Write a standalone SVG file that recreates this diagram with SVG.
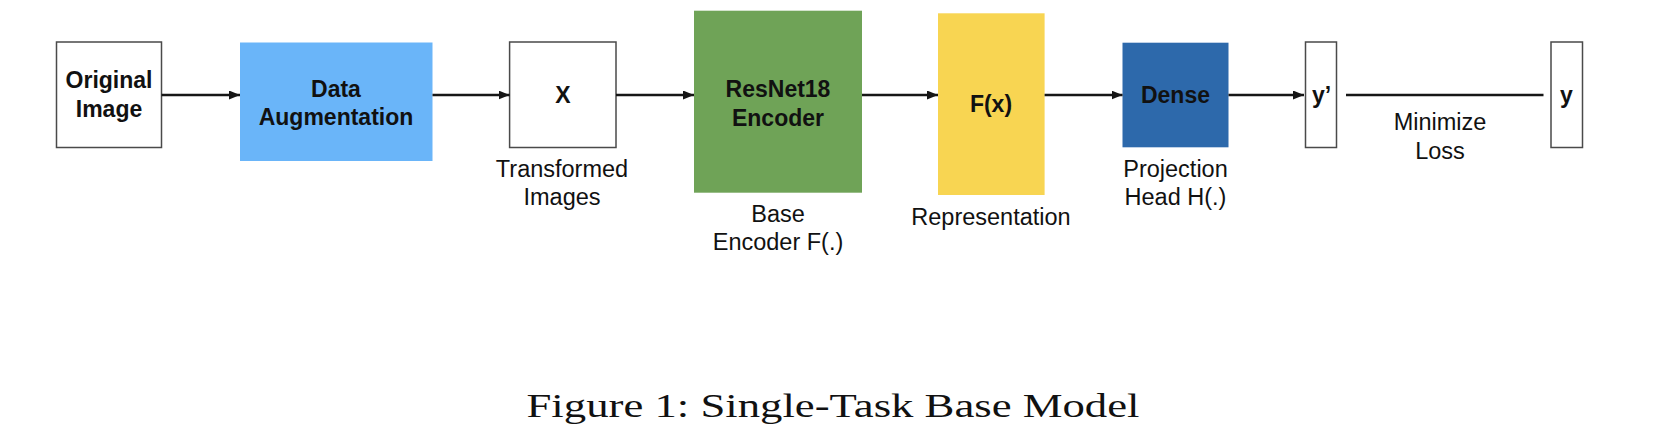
<svg xmlns="http://www.w3.org/2000/svg" width="1670" height="446" viewBox="0 0 1670 446">
<style>
.box{stroke:#4a4a4a;stroke-width:1.5;fill:#fff}
.b{font-family:"Liberation Sans",Arial,sans-serif;font-weight:bold;font-size:23px;fill:#111;text-anchor:middle}
.r{font-family:"Liberation Sans",Arial,sans-serif;font-size:23.5px;fill:#111;text-anchor:middle}
.cap{font-family:"Liberation Serif","Times New Roman",serif;font-size:34px;fill:#111;text-anchor:middle}
.edge{stroke:#161616;stroke-width:2.4;fill:none}
</style>
<defs>
<marker id="ah" markerWidth="11" markerHeight="9" refX="11" refY="4.5" orient="auto" markerUnits="userSpaceOnUse">
<path d="M0,0 L11,4.5 L0,9 Z" fill="#161616"/>
</marker>
</defs>
<rect width="1670" height="446" fill="#fff"/>
<g id="original">
<rect class="box" x="56.5" y="42" width="105" height="105.5"/>
<text class="b" x="109" y="88">Original</text>
<text class="b" x="109" y="117">Image</text>
</g>
<g id="augmentation">
<rect x="240" y="42.5" width="192.5" height="118.5" fill="#6AB5F9"/>
<text class="b" x="336" y="96.5">Data</text>
<text class="b" x="336" y="125">Augmentation</text>
</g>
<g id="x">
<rect class="box" x="509.6" y="42" width="106.4" height="105.5"/>
<text class="b" x="563" y="103">X</text>
<text class="r" x="562" y="176.5">Transformed</text>
<text class="r" x="562" y="205">Images</text>
</g>
<g id="encoder">
<rect x="694" y="10.7" width="168" height="182" fill="#6FA357"/>
<text class="b" x="778" y="97">ResNet18</text>
<text class="b" x="778" y="126">Encoder</text>
<text class="r" x="778" y="221.5">Base</text>
<text class="r" x="778" y="250">Encoder F(.)</text>
</g>
<g id="representation">
<rect x="938" y="13.3" width="106.6" height="181.7" fill="#F8D552"/>
<text class="b" x="991" y="112">F(x)</text>
<text class="r" x="991" y="225">Representation</text>
</g>
<g id="dense">
<rect x="1122.5" y="42.7" width="106" height="104.6" fill="#2D69AB"/>
<text class="b" x="1175.5" y="103">Dense</text>
<text class="r" x="1175.5" y="176.5">Projection</text>
<text class="r" x="1175.5" y="205">Head H(.)</text>
</g>
<g id="yprime">
<rect class="box" x="1305.5" y="42" width="31" height="105.5"/>
<text class="b" x="1321.5" y="103">y’</text>
</g>
<g id="y">
<rect class="box" x="1551" y="42" width="31.5" height="105.5"/>
<text class="b" x="1566.5" y="103">y</text>
</g>
<g id="connectors">
<line class="edge" x1="161.5" y1="95" x2="240" y2="95" marker-end="url(#ah)"/>
<line class="edge" x1="432.5" y1="95" x2="509.6" y2="95" marker-end="url(#ah)"/>
<line class="edge" x1="616" y1="95" x2="694" y2="95" marker-end="url(#ah)"/>
<line class="edge" x1="862" y1="95" x2="938" y2="95" marker-end="url(#ah)"/>
<line class="edge" x1="1044.6" y1="95" x2="1122.5" y2="95" marker-end="url(#ah)"/>
<line class="edge" x1="1228.5" y1="95" x2="1304" y2="95" marker-end="url(#ah)"/>
<line class="edge" x1="1346" y1="95" x2="1543.5" y2="95"/>
<text class="r" x="1440" y="130">Minimize</text>
<text class="r" x="1440" y="159">Loss</text>
</g>
<text class="cap" x="833" y="417" textLength="613" lengthAdjust="spacingAndGlyphs">Figure 1: Single-Task Base Model</text>
</svg>
